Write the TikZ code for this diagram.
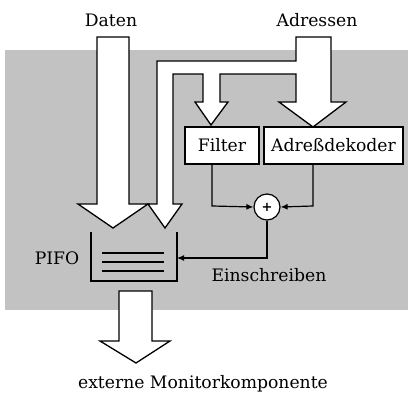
\documentclass[tikz,border=0pt]{standalone}
\usepackage{fontspec}
\setmainfont{DejaVu Serif}
\usetikzlibrary{arrows.meta}
\begin{document}
\begin{tikzpicture}[x=1pt,y=-1pt,
  bigarrow/.style={draw=black,fill=white,line width=1.3pt,line join=miter},
  conn/.style={draw=black,line width=1.2pt},
  tip/.style={-{Latex[length=7pt,width=6pt]}},
  lbl/.style={inner sep=0pt,font=\fontsize{17.2}{20}\selectfont},
  boxnode/.style={draw=black,fill=white,line width=1.3pt,inner sep=0pt,font=\fontsize{17.2}{20}\selectfont}]
\useasboundingbox (0,0) rectangle (408,395);
\fill[black!24] (5,50) rectangle (408,310);
% Daten arrow
\draw[bigarrow] (97,37) -- (129,37) -- (129,204) -- (148,204) -- (113,228) -- (78,204) -- (97,204) -- cycle;
% Adressen arrow system
\draw[bigarrow] (296,37) -- (331,37) -- (331,102) -- (346,102) -- (313,127) -- (279,102) -- (296,102)
  -- (296,74) -- (220,74) -- (220,102) -- (228,102) -- (211,125) -- (195,102) -- (203,102)
  -- (203,74) -- (173,74) -- (173,204) -- (182,204) -- (165,228) -- (148,204) -- (157,204)
  -- (157,61) -- (296,61) -- cycle;
% output arrow
\draw[bigarrow] (119,291) -- (152,291) -- (152,341) -- (170,341) -- (136,363) -- (100,341) -- (119,341) -- cycle;
% FIFO
\draw[line width=1.6pt] (91,232) -- (91,281) -- (177,281) -- (177,232);
\coordinate (fifoin) at (177,258);
\draw[line width=1.8pt] (102,253) -- (164,253) (102,262) -- (164,262) (102,271) -- (164,271);
% boxes
\node[boxnode,minimum width=74pt,minimum height=37pt] (filter) at (222,145.5) {Filter};
\node[boxnode,minimum width=139pt,minimum height=37pt] (dek) at (333.5,145.5) {Adre\ss dekoder};
% circle
\node[draw=black,fill=white,line width=1.2pt,circle,minimum size=26pt,inner sep=0pt,font=\bfseries\fontsize{13}{13}\selectfont] (plus) at (267,207) {+};
\coordinate (fc) at (212,206);
\coordinate (dc) at (313,206);
\coordinate (ec) at (267,258);
\draw[conn,tip] (filter.south -| fc) -- (fc) -- (plus.west);
\draw[conn,tip] (dek.south -| dc) -- (dc) -- (plus.east);
\draw[conn,tip] (plus.south) -- (ec) -- (fifoin);
% labels
\node[lbl] (daten) at (111,20) {Daten};
\node[lbl] (adr) at (317,20) {Adressen};
\node[lbl] (fifo) at (57,258) {PIFO};
\node[lbl] (ein) at (269,275) {Einschreiben};
\node[lbl] (ext) at (203,384) {externe Monitorkomponente};
\end{tikzpicture}
\end{document}
